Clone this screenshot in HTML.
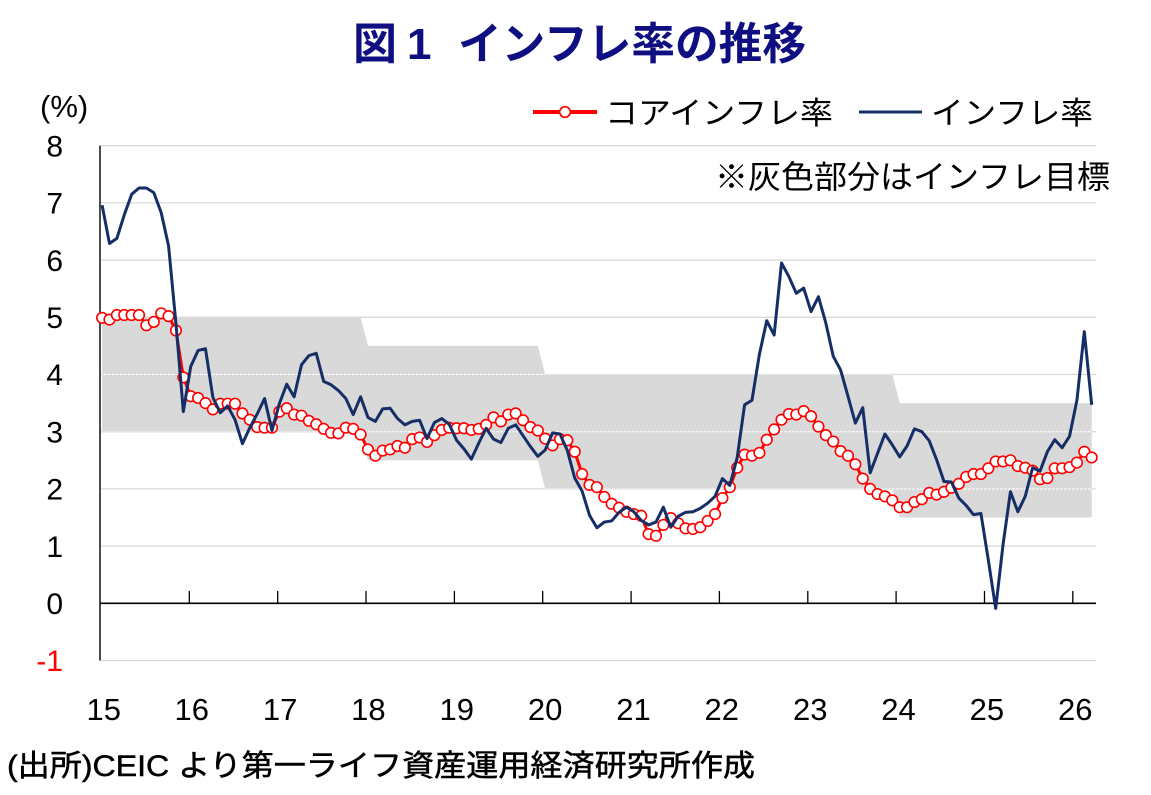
<!DOCTYPE html>
<html>
<head>
<meta charset="utf-8">
<style>
  html, body { margin: 0; padding: 0; background: #ffffff; }
  svg { display: block; }
  text { font-family: "Liberation Sans", "Noto Sans CJK JP", sans-serif; }
</style>
</head>
<body>
<svg width="1151" height="795" viewBox="0 0 1151 795" xmlns="http://www.w3.org/2000/svg">
  <defs>
    <g id="c" transform="scale(0.135410,-0.0174825)">
      <circle r="5.3" fill="#ffffff" stroke="#ff0000" stroke-width="1.6"/>
    </g>
    <clipPath id="bandclip">
      <polygon points="102.1,317.3 360.6,317.3 368.0,345.9 537.8,345.9 545.2,374.5 892.3,374.5 899.7,403.1 1091.7,403.1 1091.7,517.5 899.7,517.5 892.3,488.9 545.2,488.9 537.8,460.3 368.0,460.3 360.6,431.7 102.1,431.7"/>
    </clipPath>
  </defs>

  <!-- Title -->
  <g font-size="44" font-weight="bold" fill="#0f0f82">
    <text x="353" y="59">図</text>
    <text x="407" y="59">1</text>
    <text x="458" y="59" textLength="348" lengthAdjust="spacingAndGlyphs">インフレ率の推移</text>
  </g>

  <!-- Unit -->
  <text x="40" y="117" font-size="31" fill="#000">(%)</text>

  <!-- Legend -->
  <line x1="533" y1="112" x2="597" y2="112" stroke="#ff0000" stroke-width="4"/>
  <circle cx="565" cy="112" r="5.3" fill="#fff" stroke="#ff0000" stroke-width="1.6"/>
  <text x="605" y="124" font-size="31" fill="#000" textLength="228" lengthAdjust="spacingAndGlyphs">コアインフレ率</text>
  <line x1="859" y1="112" x2="922" y2="112" stroke="#152f66" stroke-width="3"/>
  <text x="931" y="124" font-size="31" fill="#000" textLength="162" lengthAdjust="spacingAndGlyphs">インフレ率</text>

  <!-- Gridlines -->
  <g stroke="#d9d9d9" stroke-width="1.3">
    <line x1="100" y1="145.7" x2="1096" y2="145.7"/>
    <line x1="100" y1="202.9" x2="1096" y2="202.9"/>
    <line x1="100" y1="260.1" x2="1096" y2="260.1"/>
    <line x1="100" y1="317.3" x2="1096" y2="317.3"/>
    <line x1="100" y1="374.5" x2="1096" y2="374.5"/>
    <line x1="100" y1="431.7" x2="1096" y2="431.7"/>
    <line x1="100" y1="488.9" x2="1096" y2="488.9"/>
    <line x1="100" y1="546.1" x2="1096" y2="546.1"/>
    <line x1="100" y1="660.5" x2="1096" y2="660.5"/>
  </g>

  <!-- Note -->
  <text x="715" y="188" font-size="32" fill="#000" textLength="395" lengthAdjust="spacingAndGlyphs">※灰色部分はインフレ目標</text>

  <!-- Target band -->
  <polygon fill="#d9d9d9" points="102.1,317.3 360.6,317.3 368.0,345.9 537.8,345.9 545.2,374.5 892.3,374.5 899.7,403.1 1091.7,403.1 1091.7,517.5 899.7,517.5 892.3,488.9 545.2,488.9 537.8,460.3 368.0,460.3 360.6,431.7 102.1,431.7"/>
  <g clip-path="url(#bandclip)" stroke="#ffffff" stroke-width="1" stroke-dasharray="3 1">
    <line x1="100" y1="374.5" x2="1096" y2="374.5"/>
    <line x1="100" y1="431.7" x2="1096" y2="431.7"/>
    <line x1="100" y1="488.9" x2="1096" y2="488.9"/>
  </g>

  <!-- Axes -->
  <line x1="100" y1="145.7" x2="100" y2="660.5" stroke="#000" stroke-width="1.4"/>
  <line x1="100" y1="603.3" x2="1096" y2="603.3" stroke="#000" stroke-width="1.7"/>
  <g stroke="#000" stroke-width="1.3">
    <line x1="189.3" y1="591" x2="189.3" y2="603"/>
    <line x1="277.7" y1="591" x2="277.7" y2="603"/>
    <line x1="366.0" y1="591" x2="366.0" y2="603"/>
    <line x1="454.4" y1="591" x2="454.4" y2="603"/>
    <line x1="542.7" y1="591" x2="542.7" y2="603"/>
    <line x1="631.1" y1="591" x2="631.1" y2="603"/>
    <line x1="719.4" y1="591" x2="719.4" y2="603"/>
    <line x1="807.8" y1="591" x2="807.8" y2="603"/>
    <line x1="896.1" y1="591" x2="896.1" y2="603"/>
    <line x1="984.5" y1="591" x2="984.5" y2="603"/>
    <line x1="1072.8" y1="591" x2="1072.8" y2="603"/>
  </g>

  <!-- Y labels -->
  <g font-size="30" text-anchor="end" fill="#000">
    <text x="63" y="156.4">8</text>
    <text x="63" y="213.6">7</text>
    <text x="63" y="270.8">6</text>
    <text x="63" y="328.0">5</text>
    <text x="63" y="385.2">4</text>
    <text x="63" y="442.4">3</text>
    <text x="63" y="499.6">2</text>
    <text x="63" y="556.8">1</text>
    <text x="63" y="614.0">0</text>
    <text x="63" y="671.2" fill="#ff0000">-1</text>
  </g>

  <!-- X labels -->
  <g font-size="31" text-anchor="middle" fill="#000">
    <text x="103.7" y="720">15</text>
    <text x="191.7" y="720">16</text>
    <text x="280.1" y="720">17</text>
    <text x="368.4" y="720">18</text>
    <text x="456.8" y="720">19</text>
    <text x="545.1" y="720">20</text>
    <text x="633.5" y="720">21</text>
    <text x="721.8" y="720">22</text>
    <text x="810.2" y="720">23</text>
    <text x="898.5" y="720">24</text>
    <text x="986.9" y="720">25</text>
    <text x="1075.2" y="720">26</text>
  </g>

  <!-- Data (data coords: x = month index from Jan 2015, y = percent) -->
  <g transform="matrix(7.385 0 0 -57.2 102.1 603.3)">
    <!-- Core inflation line -->
    <polyline fill="none" stroke="#ff0000" stroke-width="3" stroke-linejoin="round" vector-effect="non-scaling-stroke"
      points="0,4.99 1,4.96 2,5.04 3,5.04 4,5.04 5,5.04 6,4.86 7,4.92 8,5.07 9,5.02 10,4.77 11,3.95
12,3.62 13,3.59 14,3.50 15,3.39 16,3.49 17,3.49 18,3.49 19,3.32 20,3.21 21,3.08 22,3.07 23,3.07
24,3.35 25,3.41 26,3.30 27,3.28 28,3.19 29,3.13 30,3.05 31,2.98 32,2.97 33,3.07 34,3.05 35,2.95
36,2.69 37,2.58 38,2.67 39,2.69 40,2.75 41,2.72 42,2.87 43,2.90 44,2.82 45,2.94 46,3.03 47,3.07
48,3.06 49,3.06 50,3.03 51,3.05 52,3.12 53,3.25 54,3.18 55,3.30 56,3.32 57,3.20 58,3.08 59,3.02
60,2.88 61,2.76 62,2.87 63,2.85 64,2.65 65,2.26 66,2.07 67,2.03 68,1.86 69,1.74 70,1.67 71,1.60
72,1.56 73,1.53 74,1.21 75,1.18 76,1.37 77,1.49 78,1.40 79,1.31 80,1.30 81,1.33 82,1.44 83,1.56
84,1.84 85,2.03 86,2.37 87,2.60 88,2.58 89,2.63 90,2.86 91,3.04 92,3.21 93,3.31 94,3.30 95,3.36
96,3.27 97,3.09 98,2.94 99,2.83 100,2.66 101,2.58 102,2.43 103,2.18 104,2.00 105,1.91 106,1.87 107,1.80
108,1.68 109,1.68 110,1.77 111,1.82 112,1.93 113,1.90 114,1.95 115,2.02 116,2.09 117,2.21 118,2.26 119,2.26
120,2.36 121,2.48 122,2.48 123,2.50 124,2.40 125,2.37 126,2.32 127,2.17 128,2.19 129,2.36 130,2.36 131,2.38
132,2.46 133,2.65 134,2.55"/>
    <!-- Core markers -->
    <use href="#c" x="0" y="4.99"/><use href="#c" x="1" y="4.96"/><use href="#c" x="2" y="5.04"/><use href="#c" x="3" y="5.04"/><use href="#c" x="4" y="5.04"/><use href="#c" x="5" y="5.04"/><use href="#c" x="6" y="4.86"/><use href="#c" x="7" y="4.92"/><use href="#c" x="8" y="5.07"/><use href="#c" x="9" y="5.02"/><use href="#c" x="10" y="4.77"/><use href="#c" x="11" y="3.95"/>
    <use href="#c" x="12" y="3.62"/><use href="#c" x="13" y="3.59"/><use href="#c" x="14" y="3.50"/><use href="#c" x="15" y="3.39"/><use href="#c" x="16" y="3.49"/><use href="#c" x="17" y="3.49"/><use href="#c" x="18" y="3.49"/><use href="#c" x="19" y="3.32"/><use href="#c" x="20" y="3.21"/><use href="#c" x="21" y="3.08"/><use href="#c" x="22" y="3.07"/><use href="#c" x="23" y="3.07"/>
    <use href="#c" x="24" y="3.35"/><use href="#c" x="25" y="3.41"/><use href="#c" x="26" y="3.30"/><use href="#c" x="27" y="3.28"/><use href="#c" x="28" y="3.19"/><use href="#c" x="29" y="3.13"/><use href="#c" x="30" y="3.05"/><use href="#c" x="31" y="2.98"/><use href="#c" x="32" y="2.97"/><use href="#c" x="33" y="3.07"/><use href="#c" x="34" y="3.05"/><use href="#c" x="35" y="2.95"/>
    <use href="#c" x="36" y="2.69"/><use href="#c" x="37" y="2.58"/><use href="#c" x="38" y="2.67"/><use href="#c" x="39" y="2.69"/><use href="#c" x="40" y="2.75"/><use href="#c" x="41" y="2.72"/><use href="#c" x="42" y="2.87"/><use href="#c" x="43" y="2.90"/><use href="#c" x="44" y="2.82"/><use href="#c" x="45" y="2.94"/><use href="#c" x="46" y="3.03"/><use href="#c" x="47" y="3.07"/>
    <use href="#c" x="48" y="3.06"/><use href="#c" x="49" y="3.06"/><use href="#c" x="50" y="3.03"/><use href="#c" x="51" y="3.05"/><use href="#c" x="52" y="3.12"/><use href="#c" x="53" y="3.25"/><use href="#c" x="54" y="3.18"/><use href="#c" x="55" y="3.30"/><use href="#c" x="56" y="3.32"/><use href="#c" x="57" y="3.20"/><use href="#c" x="58" y="3.08"/><use href="#c" x="59" y="3.02"/>
    <use href="#c" x="60" y="2.88"/><use href="#c" x="61" y="2.76"/><use href="#c" x="62" y="2.87"/><use href="#c" x="63" y="2.85"/><use href="#c" x="64" y="2.65"/><use href="#c" x="65" y="2.26"/><use href="#c" x="66" y="2.07"/><use href="#c" x="67" y="2.03"/><use href="#c" x="68" y="1.86"/><use href="#c" x="69" y="1.74"/><use href="#c" x="70" y="1.67"/><use href="#c" x="71" y="1.60"/>
    <use href="#c" x="72" y="1.56"/><use href="#c" x="73" y="1.53"/><use href="#c" x="74" y="1.21"/><use href="#c" x="75" y="1.18"/><use href="#c" x="76" y="1.37"/><use href="#c" x="77" y="1.49"/><use href="#c" x="78" y="1.40"/><use href="#c" x="79" y="1.31"/><use href="#c" x="80" y="1.30"/><use href="#c" x="81" y="1.33"/><use href="#c" x="82" y="1.44"/><use href="#c" x="83" y="1.56"/>
    <use href="#c" x="84" y="1.84"/><use href="#c" x="85" y="2.03"/><use href="#c" x="86" y="2.37"/><use href="#c" x="87" y="2.60"/><use href="#c" x="88" y="2.58"/><use href="#c" x="89" y="2.63"/><use href="#c" x="90" y="2.86"/><use href="#c" x="91" y="3.04"/><use href="#c" x="92" y="3.21"/><use href="#c" x="93" y="3.31"/><use href="#c" x="94" y="3.30"/><use href="#c" x="95" y="3.36"/>
    <use href="#c" x="96" y="3.27"/><use href="#c" x="97" y="3.09"/><use href="#c" x="98" y="2.94"/><use href="#c" x="99" y="2.83"/><use href="#c" x="100" y="2.66"/><use href="#c" x="101" y="2.58"/><use href="#c" x="102" y="2.43"/><use href="#c" x="103" y="2.18"/><use href="#c" x="104" y="2.00"/><use href="#c" x="105" y="1.91"/><use href="#c" x="106" y="1.87"/><use href="#c" x="107" y="1.80"/>
    <use href="#c" x="108" y="1.68"/><use href="#c" x="109" y="1.68"/><use href="#c" x="110" y="1.77"/><use href="#c" x="111" y="1.82"/><use href="#c" x="112" y="1.93"/><use href="#c" x="113" y="1.90"/><use href="#c" x="114" y="1.95"/><use href="#c" x="115" y="2.02"/><use href="#c" x="116" y="2.09"/><use href="#c" x="117" y="2.21"/><use href="#c" x="118" y="2.26"/><use href="#c" x="119" y="2.26"/>
    <use href="#c" x="120" y="2.36"/><use href="#c" x="121" y="2.48"/><use href="#c" x="122" y="2.48"/><use href="#c" x="123" y="2.50"/><use href="#c" x="124" y="2.40"/><use href="#c" x="125" y="2.37"/><use href="#c" x="126" y="2.32"/><use href="#c" x="127" y="2.17"/><use href="#c" x="128" y="2.19"/><use href="#c" x="129" y="2.36"/><use href="#c" x="130" y="2.36"/><use href="#c" x="131" y="2.38"/>
    <use href="#c" x="132" y="2.46"/><use href="#c" x="133" y="2.65"/><use href="#c" x="134" y="2.55"/>

    <!-- Headline inflation line -->
    <polyline fill="none" stroke="#152f66" stroke-width="3" stroke-linejoin="round" vector-effect="non-scaling-stroke"
      points="0,6.96 1,6.29 2,6.38 3,6.79 4,7.15 5,7.26 6,7.26 7,7.18 8,6.83 9,6.25 10,4.89 11,3.35
12,4.14 13,4.42 14,4.45 15,3.60 16,3.33 17,3.45 18,3.21 19,2.79 20,3.07 21,3.31 22,3.58 23,3.02
24,3.49 25,3.83 26,3.61 27,4.17 28,4.33 29,4.37 30,3.88 31,3.82 32,3.72 33,3.58 34,3.30 35,3.61
36,3.25 37,3.18 38,3.40 39,3.41 40,3.23 41,3.12 42,3.18 43,3.20 44,2.88 45,3.16 46,3.23 47,3.13
48,2.85 49,2.70 50,2.52 51,2.80 52,3.06 53,2.87 54,2.81 55,3.06 56,3.12 57,2.93 58,2.74 59,2.57
60,2.68 61,2.98 62,2.96 63,2.67 64,2.19 65,1.96 66,1.54 67,1.32 68,1.42 69,1.44 70,1.59 71,1.68
72,1.60 73,1.45 74,1.37 75,1.42 76,1.68 77,1.33 78,1.52 79,1.59 80,1.60 81,1.66 82,1.75 83,1.87
84,2.18 85,2.06 86,2.55 87,3.47 88,3.55 89,4.35 90,4.94 91,4.69 92,5.95 93,5.71 94,5.42 95,5.51
96,5.10 97,5.36 98,4.90 99,4.32 100,4.08 101,3.62 102,3.15 103,3.42 104,2.28 105,2.62 106,2.96 107,2.77
108,2.56 109,2.75 110,3.05 111,3.00 112,2.84 113,2.51 114,2.13 115,2.12 116,1.84 117,1.71 118,1.55 119,1.57
120,0.76 121,-0.09 122,1.03 123,1.95 124,1.60 125,1.87 126,2.37 127,2.31 128,2.65 129,2.86 130,2.72 131,2.92
132,3.55 133,4.75 134,3.47"/>
  </g>

  <!-- Source -->
  <text x="7" y="776" font-size="30" fill="#000" stroke="#000" stroke-width="0.5" textLength="748" lengthAdjust="spacingAndGlyphs">(出所)CEIC より第一ライフ資産運用経済研究所作成</text>
</svg>
</body>
</html>
